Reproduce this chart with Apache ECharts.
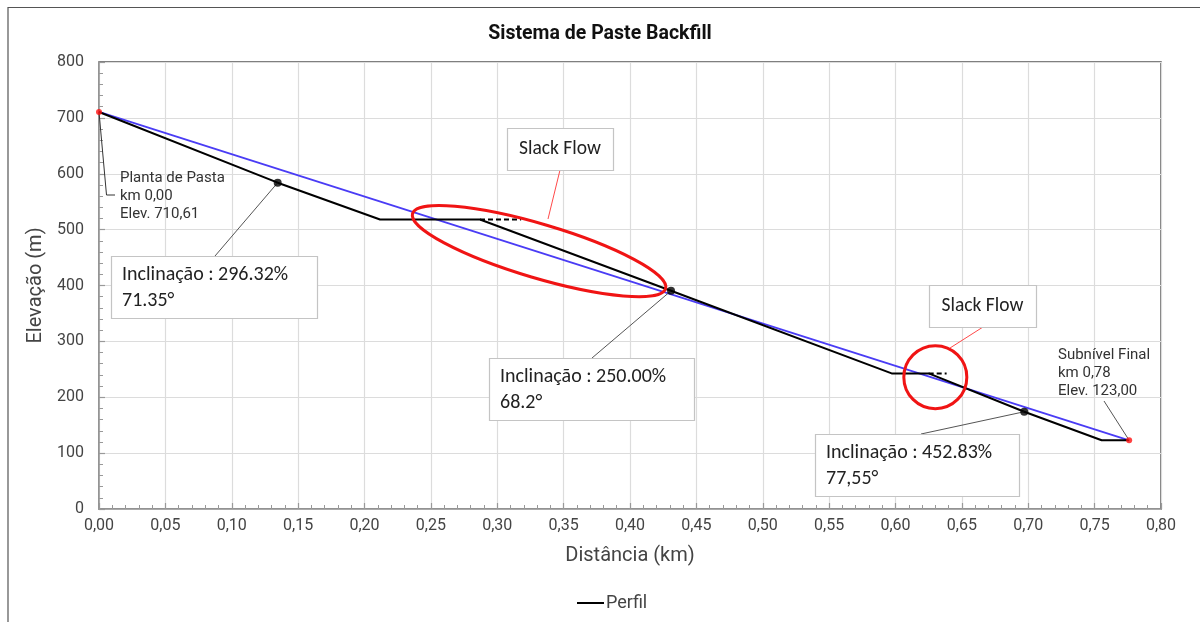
<!DOCTYPE html>
<html>
<head>
<meta charset="utf-8">
<title>Sistema de Paste Backfill</title>
<script src="https://cdn.jsdelivr.net/npm/echarts@6/dist/echarts.min.js"></script>
<style>
  html, body { margin: 0; padding: 0; background: #fff; }
  #chart { width: 1200px; height: 622px; }
</style>
</head>
<body>
<div id="chart"></div>
<script>
// Pipeline profile: distance (km) and elevation (m)
var profileX = [0.000, 0.1346, 0.2117, 0.2870, 0.4309, 0.5971, 0.6250, 0.6970, 0.7553, 0.7760];
var profileY = [710.61, 584.0, 518.2, 518.2, 390.5, 242.7, 242.7, 174.1, 123.0, 123.0];

// Horizontal continuation of the two slack-flow plateaus (dashed)
var slack1X = [0.2870, 0.3180];
var slack1Y = [518.2, 518.2];
var slack2X = [0.6250, 0.6385];
var slack2Y = [242.7, 242.7];

// Straight hydraulic line from the plant to the final sublevel
var gradeX = [0.000, 0.7760];
var gradeY = [710.61, 123.0];

// Points where the slopes are reported
var slopeX = [0.1346, 0.4309, 0.6970];
var slopeY = [584.0, 390.5, 174.1];
var slopeText = [
  ['Inclinação : 296.32%', '71.35°'],
  ['Inclinação : 250.00%', '68.2°'],
  ['Inclinação : 452.83%', '77,55°']
];

// End points
var endX = [0.000, 0.7760];
var endY = [710.61, 123.0];
var endText = [
  ['Planta de Pasta', 'km 0,00', 'Elev. 710,61'],
  ['Subnível Final', 'km 0,78', 'Elev. 123,00']
];

// Slack flow zones (centre in data units)
var slackZoneX = [0.3315, 0.6300];
var slackZoneY = [461.5, 236.0];
var slackLabel = 'Slack Flow';

var xTicks = { min: 0, max: 0.8, interval: 0.05 };
var yTicks = { min: 0, max: 800, interval: 100 };

function zip(xs, ys) { return xs.map(function (x, i) { return [x, ys[i]]; }); }

var chart = echarts.init(document.getElementById('chart'), null, { renderer: 'canvas' });

var font = 'Roboto, "Noto Sans", sans-serif';
var boxFont = 'Carlito, Lato, "Open Sans", sans-serif';

chart.setOption({
  animation: false,
  backgroundColor: '#ffffff',
  title: {
    text: 'Sistema de Paste Backfill',
    left: 'center',
    top: 19,
    textStyle: { fontFamily: font, fontSize: 19.5, fontWeight: 'bold', color: '#111' }
  },
  grid: {
    left: 99, right: 39, top: 62, bottom: 113,
    show: true, borderColor: '#555', borderWidth: 1.5, backgroundColor: 'transparent'
  },
  legend: {
    data: ['Perfil'],
    bottom: 5,
    left: 572,
    itemWidth: 27,
    itemHeight: 2,
    itemGap: 4,
    icon: 'rect',
    textStyle: { fontFamily: font, fontSize: 18, color: '#444', padding: [0, 0, 0, -3] }
  },
  xAxis: {
    type: 'value',
    min: xTicks.min, max: xTicks.max, interval: xTicks.interval,
    name: 'Distância (km)',
    nameLocation: 'middle',
    nameGap: 37,
    nameTextStyle: { fontFamily: font, fontSize: 20, color: '#444' },
    axisLine: { show: true, onZero: false, lineStyle: { color: '#999', width: 1.5 } },
    axisTick: { show: true, inside: true, length: 6, lineStyle: { color: '#999', width: 1.2 } },
    minorTick: { show: true, splitNumber: 5, length: 4, lineStyle: { color: '#999', width: 1 } },
    axisLabel: {
      margin: 9, fontFamily: font, fontSize: 16, color: '#444',
      formatter: function (v) { return v.toFixed(2).replace('.', ','); }
    },
    splitLine: { show: true, lineStyle: { color: '#dcdcdc', width: 1.2 } }
  },
  yAxis: {
    type: 'value',
    min: yTicks.min, max: yTicks.max, interval: yTicks.interval,
    name: 'Elevação (m)',
    nameLocation: 'middle',
    nameGap: 52,
    nameTextStyle: { fontFamily: font, fontSize: 20, color: '#444' },
    axisLine: { show: true, onZero: false, lineStyle: { color: '#999', width: 1.5 } },
    axisTick: { show: true, inside: true, length: 6, lineStyle: { color: '#999', width: 1.2 } },
    minorTick: { show: true, splitNumber: 5, length: 4, lineStyle: { color: '#999', width: 1 } },
    axisLabel: { margin: 15, fontFamily: font, fontSize: 16, color: '#444' },
    splitLine: { show: true, lineStyle: { color: '#dcdcdc', width: 1.2 } }
  },
  series: [
    {
      name: 'Grade', type: 'line', data: zip(gradeX, gradeY),
      symbol: 'none', z: 3,
      lineStyle: { color: '#4a3cf5', width: 1.8 }
    },
    {
      name: 'Perfil', type: 'line', data: zip(profileX, profileY),
      symbol: 'none', z: 4, color: '#000',
      lineStyle: { color: '#000', width: 2 }
    },
    {
      name: 'Slack 1', type: 'line', data: zip(slack1X, slack1Y),
      symbol: 'none', z: 4,
      lineStyle: { color: '#000', width: 2, type: [5, 3] }
    },
    {
      name: 'Slack 2', type: 'line', data: zip(slack2X, slack2Y),
      symbol: 'none', z: 4,
      lineStyle: { color: '#000', width: 2, type: [5, 3] }
    },
    {
      name: 'Pontos', type: 'scatter', data: zip(slopeX, slopeY),
      symbol: 'circle', symbolSize: 8, z: 6,
      itemStyle: { color: '#000' }
    },
    {
      name: 'Extremos', type: 'scatter', data: zip(endX, endY),
      symbol: 'circle', symbolSize: 6, z: 6,
      itemStyle: { color: '#ff1010' }
    }
  ]
});

// Annotations anchored to data points
function px(x, y) { return chart.convertToPixel({ gridIndex: 0 }, [x, y]); }

var g = [];

// Outer frame
g.push({ type: 'polyline', shape: { points: [[8, 622], [8, 7.5], [1200, 7.5]] },
  style: { stroke: '#555', lineWidth: 1.2, fill: null }, z: 1 });

// Slope boxes
var slopeBoxes = [
  { x: 111, y: 256, w: 206, h: 62, lx: 215 },
  { x: 489, y: 358, w: 205, h: 62, lx: 592 },
  { x: 815, y: 434, w: 204, h: 62, lx: 921 }
];
slopeBoxes.forEach(function (b, i) {
  var p = px(slopeX[i], slopeY[i]);
  g.push({ type: 'line', shape: { x1: b.lx, y1: b.y, x2: p[0], y2: p[1] },
    style: { stroke: '#555', lineWidth: 1 }, z: 5 });
  g.push({ type: 'rect', shape: { x: b.x + 0.5, y: b.y + 0.5, width: b.w, height: b.h },
    style: { fill: '#fff', stroke: '#c4c4c4', lineWidth: 1.2 }, z: 7 });
  g.push({ type: 'text', x: b.x + 11, y: b.y + 6, z: 8,
    style: { text: slopeText[i].join('\n'), fontFamily: boxFont, fontSize: 20, lineHeight: 26,
      fill: '#222' } });
});

// End point labels
var p0 = px(endX[0], endY[0]);
g.push({ type: 'polyline', shape: { points: [[p0[0], p0[1]], [106.5, 195], [115, 195]] },
  style: { stroke: '#333', lineWidth: 1, fill: null }, z: 5 });
g.push({ type: 'text', x: 120, y: 169, z: 8,
  style: { text: endText[0].join('\n'), fontFamily: font, fontSize: 15, lineHeight: 18, fill: '#333' } });

var p1 = px(endX[1], endY[1]);
g.push({ type: 'line', shape: { x1: 1104, y1: 401, x2: p1[0], y2: p1[1] },
  style: { stroke: '#555', lineWidth: 1 }, z: 5 });
g.push({ type: 'text', x: 1058, y: 346, z: 8,
  style: { text: endText[1].join('\n'), fontFamily: font, fontSize: 15, lineHeight: 18, fill: '#333' } });

// Slack flow zones: ellipse on the first plateau, circle on the second
var c1 = px(slackZoneX[0], slackZoneY[0]);
g.push({ type: 'ellipse', x: c1[0], y: c1[1], rotation: -16.5 * Math.PI / 180,
  shape: { cx: 0, cy: 0, rx: 132, ry: 27 },
  style: { fill: null, stroke: '#f01414', lineWidth: 3 }, z: 6 });
var c2 = px(slackZoneX[1], slackZoneY[1]);
g.push({ type: 'circle', shape: { cx: c2[0], cy: c2[1], r: 31.5 },
  style: { fill: null, stroke: '#f01414', lineWidth: 3 }, z: 6 });

var slackBoxes = [
  { x: 507, y: 128, w: 106, h: 42, l: [560, 170, 548, 219] },
  { x: 929, y: 285, w: 107, h: 42, l: [983, 327, 950, 348] }
];
slackBoxes.forEach(function (b) {
  g.push({ type: 'line', shape: { x1: b.l[0], y1: b.l[1], x2: b.l[2], y2: b.l[3] },
    style: { stroke: '#ff4a4a', lineWidth: 1 }, z: 5 });
  g.push({ type: 'rect', shape: { x: b.x + 0.5, y: b.y + 0.5, width: b.w, height: b.h },
    style: { fill: '#fff', stroke: '#c4c4c4', lineWidth: 1.2 }, z: 7 });
  g.push({ type: 'text', x: b.x + b.w / 2, y: b.y + b.h / 2, z: 8,
    style: { text: slackLabel, fontFamily: boxFont, fontSize: 19.5, fill: '#222',
      align: 'center', verticalAlign: 'middle' } });
});

chart.setOption({ graphic: g });
</script>
</body>
</html>
